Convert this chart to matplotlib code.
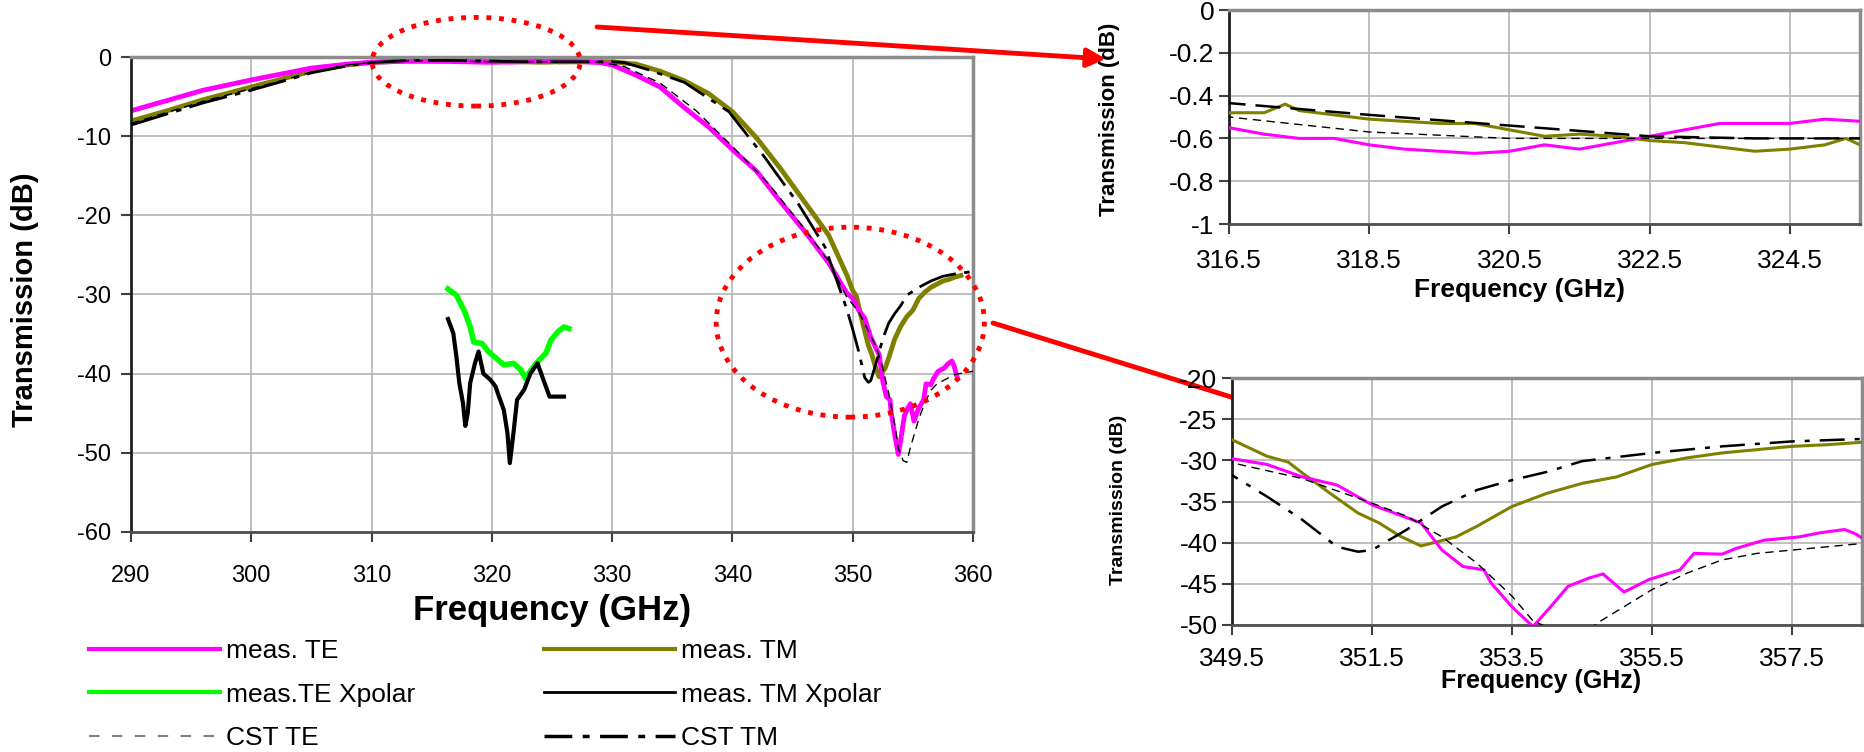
import matplotlib
matplotlib.use("Agg")
import matplotlib.pyplot as plt
from matplotlib.patches import Ellipse
from matplotlib.lines import Line2D

plt.rcParams['font.family'] = ['Liberation Sans', 'DejaVu Sans']
plt.rcParams['axes.unicode_minus'] = False

# measured TE
te_f = [290, 293, 296, 300, 303, 305, 308, 310, 313,
        316.5, 317, 317.5, 318, 318.5, 319, 319.5, 320, 320.5, 321, 321.5, 322, 322.5,
        323, 323.5, 324, 324.5, 325, 325.5,
        327, 329, 330, 332, 334, 336, 338, 340, 342, 344, 346, 348,
        349.5, 350, 350.5, 351, 351.5, 352.2, 352.5, 352.8, 353.1, 353.2, 353.5, 353.8,
        354.05, 354.3, 354.6, 354.8, 355.1, 355.45, 355.9, 356.1, 356.5, 356.7,
        357.1, 357.6, 357.9, 358.25, 358.4, 358.7]
te_db = [-6.8, -5.5, -4.2, -2.9, -2.0, -1.4, -0.9, -0.65, -0.52,
         -0.55, -0.58, -0.6, -0.6, -0.63, -0.65, -0.66, -0.67, -0.66, -0.63, -0.65, -0.62, -0.59,
         -0.56, -0.53, -0.53, -0.53, -0.51, -0.52,
         -0.55, -0.7, -1.0, -2.3, -3.8, -6.4, -8.8, -11.7, -14.4, -18.3, -22.0, -26.0,
         -29.8, -30.5, -32.0, -33.0, -35.4, -37.6, -40.9, -42.9, -43.3, -44.9, -47.8, -50.2,
         -47.8, -45.3, -44.3, -43.8, -46.0, -44.5, -43.3, -41.3, -41.4, -40.7,
         -39.7, -39.3, -38.8, -38.4, -38.9, -40.5]

# measured TM
tm_f = [290, 293, 296, 300, 303, 305, 308, 310, 313,
        316.5, 317, 317.3, 317.5, 318, 318.5, 319, 319.5, 320, 320.5, 321, 321.5, 322,
        322.5, 323, 323.5, 324, 324.5, 325, 325.3, 325.5,
        328, 330, 332, 334, 336, 338, 340, 342, 344, 346, 348,
        349.5, 350, 350.3, 350.5, 350.9, 351.3, 351.6, 351.9, 352.2, 352.7, 353, 353.5,
        354, 354.5, 355, 355.5, 356, 356.5, 357, 357.5, 358, 358.5, 359]
tm_db = [-8.1, -6.8, -5.4, -3.8, -2.6, -1.8, -1.0, -0.7, -0.5,
         -0.48, -0.48, -0.44, -0.47, -0.49, -0.51, -0.52, -0.53, -0.53, -0.56, -0.59, -0.58, -0.59,
         -0.61, -0.62, -0.64, -0.66, -0.65, -0.63, -0.6, -0.63,
         -0.6, -0.6, -0.9, -1.8, -3.0, -4.6, -6.9, -10.2, -14.1, -18.3, -22.5,
         -27.5, -29.5, -30.2, -31.5, -34.0, -36.4, -37.6, -39.2, -40.4, -39.3, -38.0, -35.6,
         -34.0, -32.8, -32.0, -30.5, -29.7, -29.1, -28.7, -28.3, -28.1, -27.8, -27.6]

# measured cross-polar
tex_f = [316.36, 317.06, 317.76, 318.2, 318.5, 319.2, 319.7, 320.4, 321.0, 321.8,
         322.4, 322.8, 323.2, 323.8, 324.5, 324.9, 325.5, 326.0, 326.4]
tex_db = [-29.3, -30.1, -32.2, -34.1, -36.0, -36.2, -37.2, -38.1, -38.9, -38.7,
          -39.5, -40.6, -39.7, -38.5, -37.4, -35.8, -34.7, -34.1, -34.3]
tmx_f = [316.36, 316.8, 317.06, 317.3, 317.6, 317.8, 318.0, 318.2, 318.6, 318.9,
         319.3, 319.9, 320.3, 320.6, 321.0, 321.3, 321.5, 321.8, 322.1, 322.7,
         323.2, 323.8, 324.2, 324.8, 325.5, 326.0]
tmx_db = [-33.1, -34.9, -37.9, -41.2, -43.7, -46.6, -45.0, -41.2, -38.7, -37.2,
          -40.0, -40.8, -41.6, -42.9, -44.6, -47.5, -51.3, -47.5, -43.3, -42.0,
          -40.0, -38.7, -40.4, -42.9, -42.9, -42.9]

# CST simulations
cst_te_f = [290, 293, 296, 300, 303, 305, 308, 310, 313,
            316.5, 318.5, 320.5, 322.5, 326, 329, 331, 334, 337, 340, 343, 346, 348,
            349.5, 350.5, 351.5, 352, 352.5, 353, 353.5, 353.8, 354.2, 354.5, 354.75,
            355.5, 356, 356.5, 357, 357.5, 358, 358.5, 360]
cst_te_db = [-8.4, -7.0, -5.6, -4.0, -2.8, -1.9, -1.0, -0.7, -0.5,
             -0.5, -0.57, -0.6, -0.6, -0.6, -0.65, -1.2, -3.3, -6.8, -11.3, -16.0, -21.7, -25.8,
             -30.3, -32.2, -35.2, -36.8, -39.3, -42.5, -46.5, -49.5, -51.0, -51.2, -49.6,
             -45.7, -43.7, -42.1, -41.3, -40.9, -40.5, -40.1, -39.7]
cst_tm_f = [290, 293, 296, 300, 303, 305, 308, 310, 313,
            316.5, 318.5, 320.5, 322.5, 324, 326, 330, 331, 333, 336, 339.7, 342.7, 345.5, 347.7,
            349.5, 350, 350.5, 351, 351.3, 351.5, 352, 352.5, 353, 353.5, 354, 354.5,
            355.5, 356.5, 357.5, 358.5, 360]
cst_tm_db = [-8.6, -7.2, -5.8, -4.2, -2.9, -2.0, -1.1, -0.7, -0.45,
             -0.435, -0.49, -0.54, -0.59, -0.6, -0.6, -0.6, -0.7, -1.6, -3.2, -6.9, -12.7, -18.6, -24.0,
             -31.8, -34.4, -37.2, -40.5, -41.1, -40.9, -38.4, -35.6, -33.6, -32.4, -31.4, -30.1,
             -29.1, -28.3, -27.7, -27.4, -27.1]

main_xticks = [290, 300, 310, 320, 330, 340, 350, 360]
main_yticks = [0, -10, -20, -30, -40, -50, -60]
top_xticks = [316.5, 318.5, 320.5, 322.5, 324.5]
top_yticks = [0, -0.2, -0.4, -0.6, -0.8, -1]
top_ylabels = ['0', '-0.2', '-0.4', '-0.6', '-0.8', '-1']
bot_xticks = [349.5, 351.5, 353.5, 355.5, 357.5]
bot_yticks = [-20, -25, -30, -35, -40, -45, -50]

MAG = '#ff00ff'
OLV = '#808000'
GRN = '#00ff00'
CST_TM_LS = (0, (10, 4, 2, 4))
CST_TE_LS = (0, (6, 4))


def style_axes(ax, tsize):
    ax.grid(True, color='#b4b4b4', lw=1.2)
    ax.set_axisbelow(True)
    for s in ['top', 'right']:
        ax.spines[s].set_color('#8c8c8c')
        ax.spines[s].set_linewidth(2.5)
    ax.spines['left'].set_color('#202020')
    ax.spines['left'].set_linewidth(2)
    ax.spines['bottom'].set_color('#505050')
    ax.spines['bottom'].set_linewidth(2)
    ax.tick_params(direction='out', length=7, width=1.5, color='#404040', labelsize=tsize)


fig = plt.figure(figsize=(18.65, 7.52), dpi=100)

# ---- main plot
ax = fig.add_axes([0.0702, 0.2926, 0.4515, 0.6316])
ax.plot(cst_te_f, cst_te_db, color='black', lw=1.0, ls=CST_TE_LS, zorder=4)
ax.plot(tm_f, tm_db, color=OLV, lw=3.5, zorder=2)
ax.plot(te_f, te_db, color=MAG, lw=3.5, zorder=2)
ax.plot(cst_tm_f, cst_tm_db, color='black', lw=2.0, ls=(0, (14, 3, 2, 3)), zorder=3)
ax.plot(tex_f, tex_db, color=GRN, lw=4, zorder=2)
ax.plot(tmx_f, tmx_db, color='black', lw=3, zorder=3)
ax.set_xlim(290, 360)
ax.set_ylim(-60, 0)
ax.set_xticks(main_xticks)
ax.set_yticks(main_yticks)
style_axes(ax, 17)
ax.tick_params(axis='x', pad=17)
ax.tick_params(axis='y', pad=7)
ax.set_xlabel('Frequency (GHz)', fontsize=25, fontweight='bold', va='center')
ax.xaxis.set_label_coords(0.5, -0.166)
ax.set_ylabel('Transmission (dB)', fontsize=21, fontweight='bold', va='center')
ax.yaxis.set_label_coords(-0.126, 0.49)

for (cx, cy, w, h) in [(318.7, -0.6, 17.3, 11.2), (349.8, -33.5, 22.3, 24.0)]:
    ax.add_patch(Ellipse((cx, cy), w, h, fill=False, edgecolor='red', lw=3.5,
                         ls=(0, (1, 1.6)), clip_on=False, zorder=6))

# ---- top inset
ax1 = fig.add_axes([0.659, 0.7021, 0.3383, 0.2846])
ax1.plot(cst_te_f, cst_te_db, color='black', lw=1.0, ls=CST_TE_LS, zorder=4)
ax1.plot(cst_tm_f, cst_tm_db, color='black', lw=1.8, ls=(0, (10, 4)), zorder=4)
ax1.plot(tm_f, tm_db, color=OLV, lw=2.2, zorder=3)
ax1.plot(te_f, te_db, color=MAG, lw=2.2, zorder=3)
ax1.set_xlim(316.5, 325.5)
ax1.set_ylim(-1, 0)
ax1.set_xticks(top_xticks)
ax1.set_yticks(top_yticks)
ax1.set_yticklabels(top_ylabels)
style_axes(ax1, 19)
ax1.tick_params(axis='x', pad=11)
ax1.set_xlabel('Frequency (GHz)', fontsize=19, fontweight='bold', va='center')
ax1.xaxis.set_label_coords(0.46, -0.31)
ax1.set_ylabel('Transmission (dB)', fontsize=16, fontweight='bold', va='center')
ax1.yaxis.set_label_coords(-0.19, 0.49)

# ---- bottom inset
ax2 = fig.add_axes([0.6606, 0.1689, 0.3378, 0.3284])
ax2.plot(cst_te_f, cst_te_db, color='black', lw=1.0, ls=CST_TE_LS, zorder=4)
ax2.plot(cst_tm_f, cst_tm_db, color='black', lw=1.8, ls=CST_TM_LS, zorder=4)
ax2.plot(tm_f, tm_db, color=OLV, lw=2.2, zorder=3)
ax2.plot(te_f, te_db, color=MAG, lw=2.2, zorder=3)
ax2.set_xlim(349.5, 358.5)
ax2.set_ylim(-50, -20)
ax2.set_xticks(bot_xticks)
ax2.set_yticks(bot_yticks)
style_axes(ax2, 19)
ax2.tick_params(axis='x', pad=9)
ax2.set_xlabel('Frequency (GHz)', fontsize=18, fontweight='bold', va='center')
ax2.xaxis.set_label_coords(0.49, -0.227)
ax2.set_ylabel('Transmission (dB)', fontsize=14, fontweight='bold', va='center')
ax2.yaxis.set_label_coords(-0.18, 0.506)

# ---- arrows (figure pixels)
H = 752
for (x0, y0, x1, y1) in [(597, 27, 1106, 59), (993, 323, 1273, 410)]:
    ax.annotate('', xy=(x1, H - y1), xytext=(x0, H - y0), xycoords='figure pixels',
                textcoords='figure pixels',
                arrowprops=dict(arrowstyle='-|>', color='red', lw=3.5, mutation_scale=28,
                                shrinkA=0, shrinkB=0), zorder=10)

# ---- legend
handles = [
    Line2D([], [], color=MAG, lw=3),
    Line2D([], [], color=GRN, lw=3),
    Line2D([], [], color='#808080', lw=1.5, ls=(0, (5, 6))),
    Line2D([], [], color=OLV, lw=3),
    Line2D([], [], color='black', lw=2),
    Line2D([], [], color='black', lw=2.5, ls=(0, (8, 3, 2, 3))),
]
labels = ['meas. TE', 'meas.TE Xpolar', 'CST TE', 'meas. TM', 'meas. TM Xpolar', 'CST TM']
fig.legend(handles, labels, loc='upper left', bbox_to_anchor=(0.0477, 0.150), ncol=2,
           frameon=False, fontsize=19, handlelength=4.96, handletextpad=0.25,
           labelspacing=0.74, columnspacing=4.85, borderpad=0, borderaxespad=0)

fig.savefig('out.png', dpi=100)
